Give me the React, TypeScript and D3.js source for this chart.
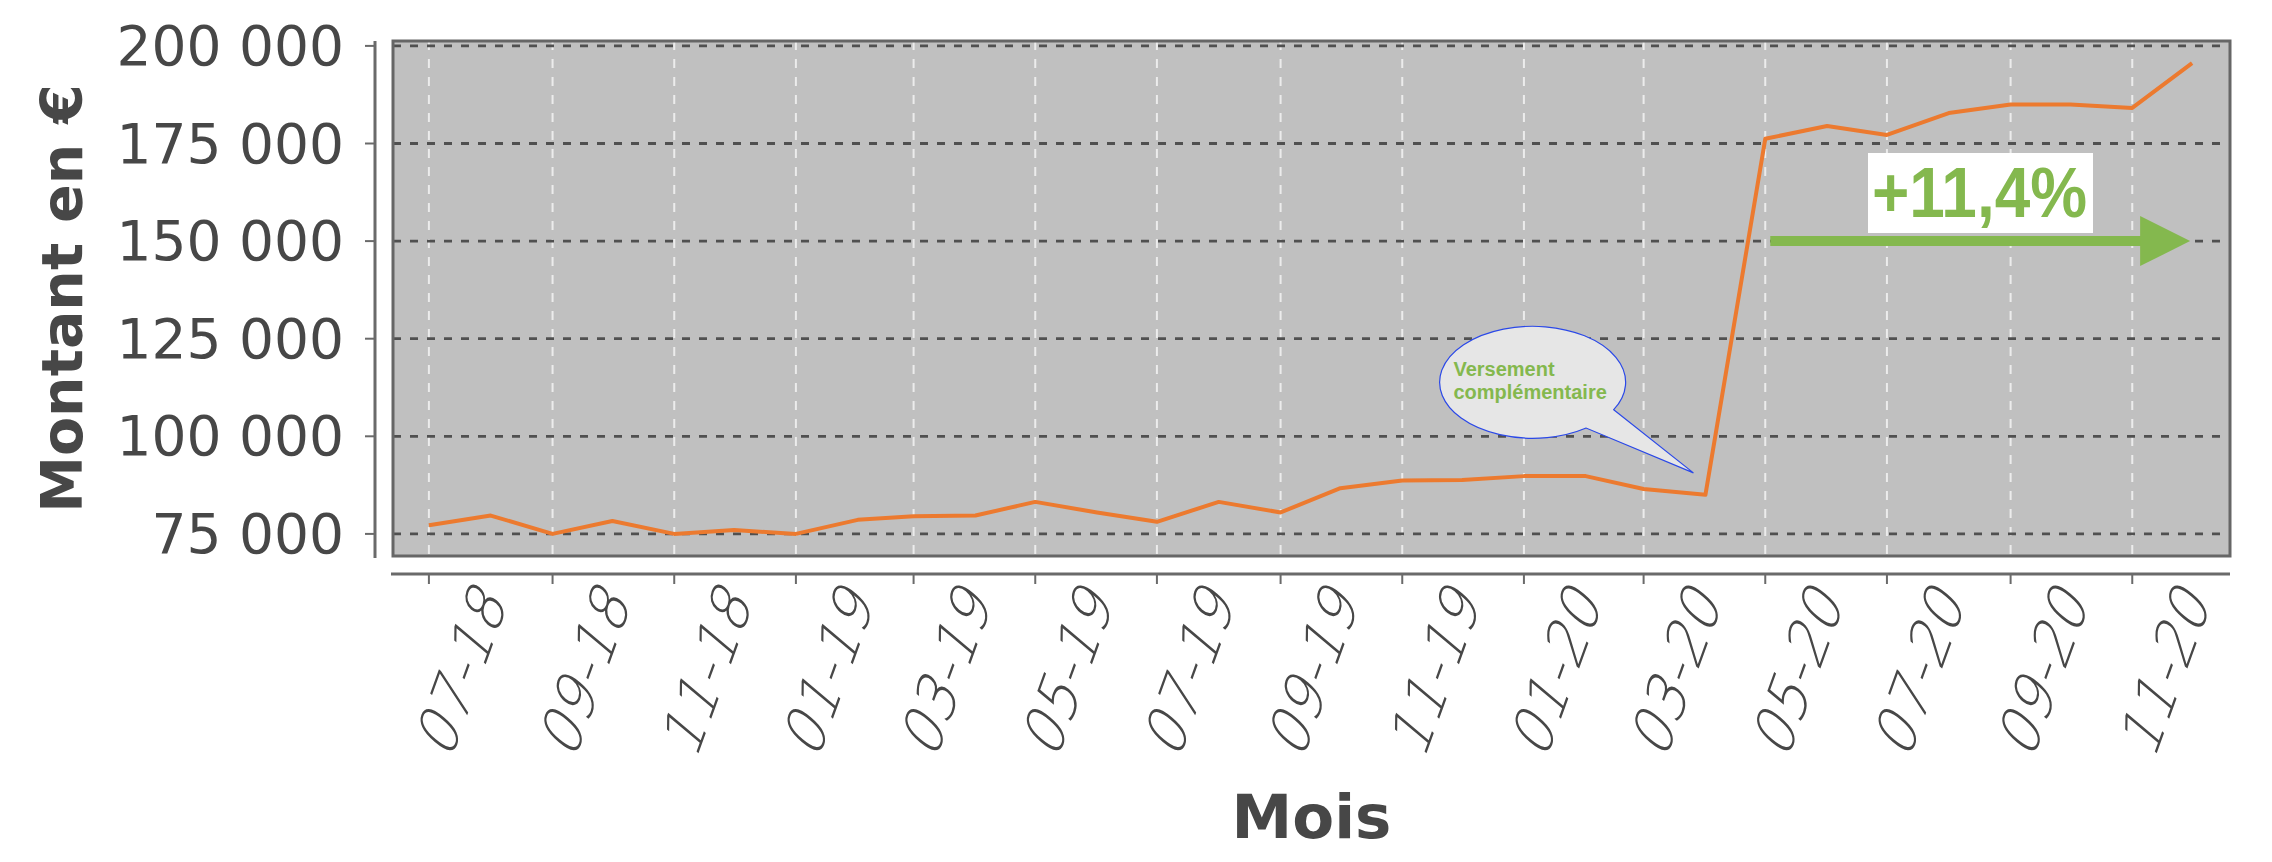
import React from 'react';
import * as d3 from 'd3';

// ---- data ----
const months: string[] = [
  '2018-07', '2018-08', '2018-09', '2018-10', '2018-11', '2018-12',
  '2019-01', '2019-02', '2019-03', '2019-04', '2019-05', '2019-06',
  '2019-07', '2019-08', '2019-09', '2019-10', '2019-11', '2019-12',
  '2020-01', '2020-02', '2020-03', '2020-04', '2020-05', '2020-06',
  '2020-07', '2020-08', '2020-09', '2020-10', '2020-11', '2020-12',
];
const values: number[] = [
  77200, 79700, 75000, 78300, 75000, 76000,
  75000, 78600, 79500, 79700, 83200, 80500,
  78100, 83200, 80500, 86700, 88700, 88800,
  89800, 89800, 86500, 85000, 176200, 179500,
  177200, 182800, 185000, 185000, 184100, 195600,
];
const yTicks: number[] = [75000, 100000, 125000, 150000, 175000, 200000];
const xTickLabels: string[] = [
  '07-18', '09-18', '11-18', '01-19', '03-19', '05-19', '07-19', '09-19',
  '11-19', '01-20', '03-20', '05-20', '07-20', '09-20', '11-20',
];
const yTitle = 'Montant en €';
const xTitle = 'Mois';
const bubbleLines: string[] = ['Versement', 'complémentaire'];
const bubbleMonth = '2020-04';
const growthLabel = '+11,4%';
const growthLevel = 150000;
const growthFrom = '2020-05';
const growthTo = '2020-12';

const parseMonth = (s: string) => {
  const [y, m] = s.split('-').map(Number);
  return new Date(y, m - 1, 1);
};
const parseTick = (s: string) => {
  const [m, y] = s.split('-').map(Number);
  return new Date(2000 + y, m - 1, 1);
};

const W = 2272;
const H = 862;
const plot = { left: 393, right: 2230, top: 41, bottom: 556 };

const fmt = d3.formatLocale({
  decimal: ',',
  thousands: ' ',
  grouping: [3],
  currency: ['', ' €'],
}).format(',');

const GREEN = '#84B84E';
const TEXT = '#474747';

export default function App() {
  const x = d3
    .scaleTime()
    .domain([new Date(2018, 5, 13), new Date(2020, 11, 20)])
    .range([plot.left, plot.right]);
  const y = d3
    .scaleLinear()
    .domain([69340, 201255])
    .range([plot.bottom, plot.top]);

  const pts = months.map((m, i) => ({ d: parseMonth(m), v: values[i] }));
  const line = d3
    .line<{ d: Date; v: number }>()
    .x((p) => x(p.d))
    .y((p) => y(p.v));

  const ticks = xTickLabels.map((l) => ({ label: l, d: parseTick(l) }));

  // bubble geometry relative to the pointed data point
  const bi = months.indexOf(bubbleMonth);
  const tip = { x: x(parseMonth(bubbleMonth)) - 12, y: y(values[bi]) - 22 };
  const c = { x: tip.x - 159, y: tip.y - 92 };
  const rx = 93;
  const ry = 56;
  const r1 = { x: c.x + 79.3, y: c.y + 28.8 };
  const r2 = { x: c.x + 51.7, y: c.y + 47.2 };
  const bubblePath = `M${r1.x},${r1.y} L${tip.x},${tip.y} L${r2.x},${r2.y} A${rx},${ry} 0 1 1 ${r1.x},${r1.y} Z`;

  // growth arrow
  const ay = y(growthLevel);
  const ax0 = x(parseMonth(growthFrom)) + 5;
  const ax1 = x(parseMonth(growthTo)) - 2;
  const headLen = 50;
  const headHalf = 25;

  const xAxisY = 574;
  const yAxisX = 375;

  return (
    <svg
      width={W}
      height={H}
      style={{ position: 'absolute', left: 0, top: 0, display: 'block', background: '#fff' }}
    >
      {/* plot background */}
      <rect
        x={plot.left}
        y={plot.top}
        width={plot.right - plot.left}
        height={plot.bottom - plot.top}
        fill="#c0c0c0"
      />
      {/* vertical grid */}
      {ticks.map((t) => (
        <line
          key={'vg' + t.label}
          x1={x(t.d)}
          x2={x(t.d)}
          y1={plot.top}
          y2={plot.bottom}
          stroke="#ececec"
          strokeWidth={2}
          strokeDasharray="9 9"
        />
      ))}
      {/* horizontal grid */}
      {yTicks.map((v) => (
        <line
          key={'hg' + v}
          x1={plot.left}
          x2={plot.right}
          y1={y(v)}
          y2={y(v)}
          stroke="#505050"
          strokeWidth={2.8}
          strokeDasharray="8 9"
        />
      ))}
      {/* frame */}
      <rect
        x={plot.left}
        y={plot.top}
        width={plot.right - plot.left}
        height={plot.bottom - plot.top}
        fill="none"
        stroke="#666"
        strokeWidth={3}
      />
      {/* data line */}
      <path
        d={line(pts) || ''}
        fill="none"
        stroke="#EC7A2F"
        strokeWidth={4}
        strokeLinejoin="round"
      />

      {/* bubble annotation */}
      <path d={bubblePath} fill="#e6e6e6" stroke="#2a48e8" strokeWidth={1.2} />
      {bubbleLines.map((l, i) => (
        <text
          key={l}
          x={c.x - 81}
          y={c.y - 4.5 + i * 23}
          fontFamily="'Liberation Sans', Arial, sans-serif"
          fontWeight="bold"
          fontSize={20}
          fill={GREEN}
        >
          {l}
        </text>
      ))}

      {/* growth annotation */}
      <line x1={ax0} x2={ax1 - headLen + 2} y1={ay} y2={ay} stroke={GREEN} strokeWidth={10} />
      <path
        d={`M${ax1 - headLen},${ay - headHalf} L${ax1},${ay} L${ax1 - headLen},${ay + headHalf} Z`}
        fill={GREEN}
      />
      <rect x={1868} y={153} width={225} height={80} fill="#fff" />
      <text
        x={1872}
        y={217}
        fontFamily="'Liberation Sans', Arial, sans-serif"
        fontWeight="bold"
        fontSize={70}
        textLength={215}
        lengthAdjust="spacingAndGlyphs"
        fill={GREEN}
      >
        {growthLabel}
      </text>

      {/* y axis */}
      <line x1={yAxisX} x2={yAxisX} y1={plot.top} y2={plot.bottom + 2} stroke="#6a6a6a" strokeWidth={3} />
      {yTicks.map((v) => (
        <g key={'yt' + v}>
          <line x1={yAxisX - 10} x2={yAxisX} y1={y(v)} y2={y(v)} stroke="#6a6a6a" strokeWidth={2} />
          <text
            x={344}
            y={y(v)}
            textAnchor="end"
            dominantBaseline="central"
            fontFamily="'DejaVu Sans', sans-serif"
            fontSize={55}
            fill={TEXT}
          >
            {fmt(v)}
          </text>
        </g>
      ))}
      <text
        transform={`translate(82, ${(plot.top + plot.bottom) / 2}) rotate(-90)`}
        textAnchor="middle"
        fontFamily="'DejaVu Sans', sans-serif"
        fontWeight="bold"
        fontSize={57}
        fill={TEXT}
      >
        {yTitle}
      </text>

      {/* x axis */}
      <line x1={plot.left - 2} x2={plot.right} y1={xAxisY} y2={xAxisY} stroke="#6a6a6a" strokeWidth={3} />
      {ticks.map((t) => (
        <g key={'xt' + t.label}>
          <line x1={x(t.d)} x2={x(t.d)} y1={xAxisY} y2={xAxisY + 10} stroke="#6a6a6a" strokeWidth={2} />
          <text
            transform={`translate(${x(t.d) + 79}, 603) rotate(-70) skewX(-20)`}
            textAnchor="end"
            fontFamily="'DejaVu Sans', sans-serif"
            fontWeight={300}
            fontSize={58}
            fill={TEXT}
          >
            {t.label}
          </text>
        </g>
      ))}
      <text
        x={(plot.left + plot.right) / 2}
        y={838}
        textAnchor="middle"
        fontFamily="'DejaVu Sans', sans-serif"
        fontWeight="bold"
        fontSize={61}
        fill={TEXT}
      >
        {xTitle}
      </text>
    </svg>
  );
}
